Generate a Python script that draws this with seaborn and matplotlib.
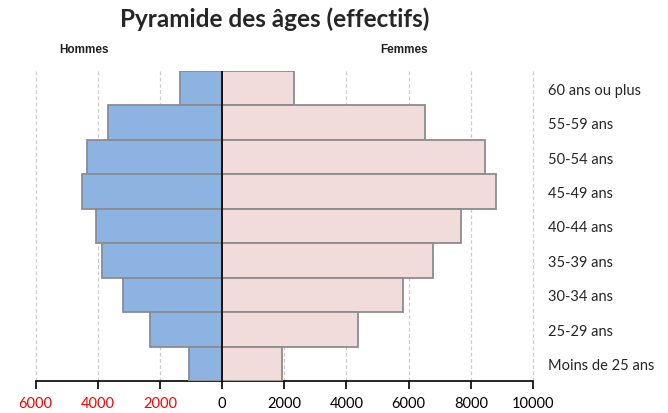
import numpy as np
import pandas as pd
import matplotlib
matplotlib.use("Agg")
import matplotlib.pyplot as plt
import seaborn as sns

# Data (top row first)
tranches = ["60 ans ou plus", "55-59 ans", "50-54 ans", "45-49 ans", "40-44 ans",
            "35-39 ans", "30-34 ans", "25-29 ans", "Moins de 25 ans"]
hommes = [1350, 3680, 4350, 4500, 4060, 3870, 3200, 2310, 1060]
femmes = [2320, 6530, 8460, 8810, 7700, 6770, 5810, 4360, 1940]
ticks = [-6000, -4000, -2000, 0, 2000, 4000, 6000, 8000, 10000]

sns.set_style("white")
plt.rcParams["font.family"] = ["Lato", "DejaVu Sans"]

df = pd.DataFrame({"tranche": tranches,
                   "hommes": [-v for v in hommes],
                   "femmes": femmes})

fig = plt.figure(figsize=(6.68, 4.14), dpi=100)
ax = fig.add_axes([35.5 / 668, 1 - 382 / 414, (533 - 35.5) / 668, (382 - 72) / 414])

sns.barplot(data=df, x="hommes", y="tranche", orient="h", width=1,
            color="#8db3e2", edgecolor="#8c8c8c", linewidth=1.3,
            saturation=1, ax=ax, zorder=3)
sns.barplot(data=df, x="femmes", y="tranche", orient="h", width=1,
            color="#f2dcdb", edgecolor="#8c8c8c", linewidth=1.3,
            saturation=1, ax=ax, zorder=3)

ax.set_xlim(-6000, 10000)
ax.set_ylim(len(tranches) - 0.5, -0.5)
ax.axvline(0, color="black", linewidth=1.2, zorder=4)

# gridlines (dashed) except at 0
for t in ticks:
    if t != 0:
        ax.axvline(t, color="#cccccc", linestyle=(0, (3, 2)), linewidth=0.9,
                   zorder=1, clip_on=False)

ax.set_xticks(ticks)
ax.set_xticklabels([str(abs(t)) for t in ticks])
for lab, t in zip(ax.get_xticklabels(), ticks):
    lab.set_color("red" if t < 0 else "black")
    lab.set_fontsize(10.5)
ax.tick_params(axis="x", bottom=True, direction="out", length=6, width=1.2,
               color="black", pad=5)

ax.yaxis.tick_right()
ax.tick_params(axis="y", length=0, pad=11, labelsize=10.5)
ax.set_xlabel("")
ax.set_ylabel("")

for s in ["top", "right", "left"]:
    ax.spines[s].set_visible(False)
ax.spines["bottom"].set_color("black")
ax.spines["bottom"].set_linewidth(1.2)

fig.text(275 / 668, 1 - 19 / 414, "Pyramide des âges (effectifs)", ha="center",
         va="center", fontsize=17.5, fontweight="bold")
fig.text(84 / 668, 1 - 50 / 414, "Hommes", ha="center", va="center",
         fontsize=8.5, fontweight="bold", family=["Liberation Sans"], color="#222222")
fig.text(404 / 668, 1 - 50 / 414, "Femmes", ha="center", va="center",
         fontsize=8.5, fontweight="bold", family=["Liberation Sans"], color="#222222")

fig.savefig("out.png", dpi=100)
